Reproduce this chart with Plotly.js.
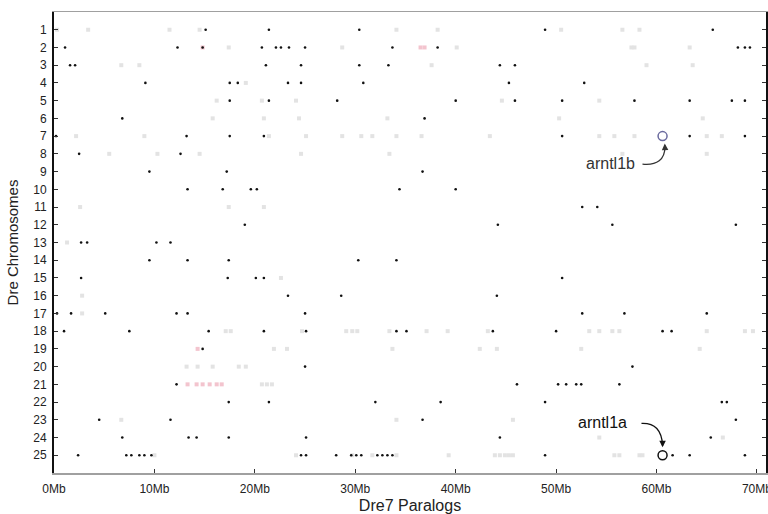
<!DOCTYPE html>
<html>
<head>
<meta charset="utf-8">
<script src="https://cdn.plot.ly/plotly-3.0.1.min.js"></script>
<style>html,body{margin:0;padding:0;background:#fff;}#chart{width:768px;height:514px;}</style>
</head>
<body>
<div id="chart"></div>
<script>
// Black (strong) paralog hits: x in Mb, y = chromosome
var blackX = [
 15.1, 21.4, 30.4, 48.9, 65.6,
 1.1, 12.3, 14.8, 20.7, 22.1, 22.6, 23.4, 25.0, 33.7, 38.2, 68.1, 68.8, 69.3,
 1.6, 2.1, 21.1, 24.6, 30.4, 33.3, 44.4, 45.9,
 9.1, 17.5, 18.3, 23.3, 24.6, 30.8, 45.3, 52.8,
 17.5, 21.4, 28.2, 40.0, 45.9, 50.6, 57.8, 63.3, 67.5, 68.8,
 6.8, 36.9,
 0.2, 13.2, 17.5, 20.9, 50.6, 63.3, 68.8,
 2.5, 12.6,
 9.5, 17.2, 36.7,
 13.3, 16.8, 19.6, 20.2, 34.4, 40.0,
 52.6, 54.1,
 19.0, 44.2, 55.6, 67.9,
 2.7, 3.3, 10.2, 11.6,
 9.5, 13.3, 17.4, 30.3, 34.1,
 2.7, 17.3, 20.1, 20.9, 50.6,
 23.3, 28.6, 44.1,
 0.3, 1.7, 5.1, 12.2, 13.3, 25.0, 52.6, 56.8, 65.0,
 1.0, 7.5, 15.4, 20.9, 25.1, 34.1, 35.1, 43.7, 50.0, 60.6, 61.5,
 14.8,
 25.0, 57.6,
 12.2, 46.1, 50.2, 51.0, 52.0, 52.5, 56.3,
 17.4, 21.4, 32.0, 38.5, 48.9, 66.5, 67.0,
 4.5, 11.6, 36.7, 67.9,
 6.8, 13.4, 14.2, 17.4, 25.1, 44.4, 65.4,
 2.4, 7.2, 7.7, 8.5, 9.0, 9.7, 24.6, 25.1, 28.1, 29.6, 30.1, 30.6, 32.2, 32.7, 33.2, 33.7, 48.9, 61.6, 63.3, 68.8
];
var blackY = [
 1,1,1,1,1,
 2,2,2,2,2,2,2,2,2,2,2,2,2,
 3,3,3,3,3,3,3,3,
 4,4,4,4,4,4,4,4,
 5,5,5,5,5,5,5,5,5,5,
 6,6,
 7,7,7,7,7,7,7,
 8,8,
 9,9,9,
 10,10,10,10,10,10,
 11,11,
 12,12,12,12,
 13,13,13,13,
 14,14,14,14,14,
 15,15,15,15,15,
 16,16,16,
 17,17,17,17,17,17,17,17,17,
 18,18,18,18,18,18,18,18,18,18,18,
 19,
 20,20,
 21,21,21,21,21,21,21,
 22,22,22,22,22,22,22,
 23,23,23,23,
 24,24,24,24,24,24,24,
 25,25,25,25,25,25,25,25,25,25,25,25,25,25,25,25,25,25,25,25
];
// Faint (weak) hits
var faintX = [
 0.3, 3.4, 11.5, 14.5, 34.1, 38.2, 50.5, 56.6, 58.3,
 17.4, 28.7, 40.1, 57.5, 57.8, 63.3,
 6.7, 8.5, 37.6, 59.0, 63.6,
 19.1,
 16.2, 20.7, 24.1, 44.6, 54.3,
 15.8, 20.9, 24.4, 33.2, 50.3, 64.6,
 2.2, 9.0, 21.4, 25.1, 28.7, 30.6, 31.7, 34.1, 36.6, 43.4, 54.3, 55.8, 57.8, 65.0, 66.5,
 5.5, 10.3, 14.5, 24.6, 33.4, 56.6, 65.0,
 2.6, 17.4, 20.9,
 1.3,
 22.6,
 2.8,
 2.8,
 17.1, 17.6, 24.7, 29.1, 29.7, 30.2, 33.4, 37.1, 39.2, 43.2, 53.3, 54.3, 55.6, 56.3, 65.0, 68.8, 69.6,
 21.9, 23.2, 33.7, 42.4, 44.1, 52.5, 64.3,
 13.2, 14.3, 15.8, 18.4, 19.1,
 20.7, 21.2, 21.7,
 6.7, 34.1, 45.7,
 54.3, 66.6,
 10.0, 24.1, 29.7, 31.7, 34.1, 39.3, 43.9, 44.4, 44.9, 45.3, 45.7, 55.8, 56.3, 58.3, 58.6
];
var faintY = [
 1,1,1,1,1,1,1,1,1,
 2,2,2,2,2,2,
 3,3,3,3,3,
 4,
 5,5,5,5,5,
 6,6,6,6,6,6,
 7,7,7,7,7,7,7,7,7,7,7,7,7,7,7,
 8,8,8,8,8,8,8,
 11,11,11,
 13,
 15,
 16,
 17,
 18,18,18,18,18,18,18,18,18,18,18,18,18,18,18,18,18,
 19,19,19,19,19,19,19,
 20,20,20,20,20,
 21,21,21,
 23,23,23,
 24,24,
 25,25,25,25,25,25,25,25,25,25,25,25,25,25,25
];
// Pinkish hits
var pinkX = [14.8, 36.5, 36.9, 14.3, 13.3, 14.2, 14.8, 15.5, 16.2, 16.7];
var pinkY = [2, 2, 2, 19, 21, 21, 21, 21, 21, 21];
// Highlighted genes
var geneNames = ["arntl1b", "arntl1a"];
var geneX = [60.6, 60.6];
var geneY = [7, 25];
var geneColors = ["#6a6a9e", "#111111"];

var xTickVals = [0, 10, 20, 30, 40, 50, 60, 70];
var xTickText = ["0Mb", "10Mb", "20Mb", "30Mb", "40Mb", "50Mb", "60Mb", "70Mb"];
var yTickVals = [];
for (var i = 1; i <= 25; i++) yTickVals.push(i);

var traces = [
 {x: faintX, y: faintY, type: "scatter", mode: "markers", hoverinfo: "skip",
  marker: {color: "#e3e3e3", size: 4, symbol: "square"}},
 {x: pinkX, y: pinkY, type: "scatter", mode: "markers", hoverinfo: "skip",
  marker: {color: "#f3c4ce", size: 4, symbol: "square"}},
 {x: blackX, y: blackY, type: "scatter", mode: "markers", hoverinfo: "skip",
  marker: {color: "#111111", size: 2.6}},
 {x: geneX, y: geneY, type: "scatter", mode: "markers", hoverinfo: "skip",
  marker: {symbol: "circle-open", size: 9, color: geneColors, line: {width: 1.5, color: geneColors}}}
];

var font = "Liberation Sans, Arial, sans-serif";
var layout = {
 width: 768, height: 514,
 margin: {l: 54, r: 2, t: 12, b: 41},
 paper_bgcolor: "#ffffff", plot_bgcolor: "#ffffff",
 showlegend: false,
 font: {family: font, size: 12, color: "#222"},
 xaxis: {
  range: [0, 70.9], tickvals: xTickVals, ticktext: xTickText,
  showgrid: false, zeroline: false, showline: true, mirror: true,
  linecolor: "#a0a0a0", linewidth: 1.5, ticks: "inside", ticklen: 4, tickcolor: "#333",
  ticklabeloverflow: "allow", ticklabelstandoff: 4,
  tickfont: {family: font, size: 12, color: "#222"},
  title: {text: "Dre7 Paralogs", font: {family: font, size: 16, color: "#222"}, standoff: 5}
 },
 yaxis: {
  range: [26, 0], tickvals: yTickVals,
  showgrid: false, zeroline: false, showline: true, mirror: "ticks",
  linecolor: "#111", linewidth: 2, ticks: "inside", ticklen: 4, tickcolor: "#333",
  ticklabelstandoff: 3,
  tickfont: {family: font, size: 12, color: "#222"},
  title: {text: "Dre Chromosomes", font: {family: font, size: 15, color: "#222"}, standoff: 11}
 },
 shapes: [
  {type: "path", path: "M 58.6 8.58 Q 60.8 8.7 60.85 7.6", line: {color: "#333", width: 1.3}},
  {type: "path", path: "M 58.5 23.2 Q 60.5 23.15 60.6 24.45", line: {color: "#111", width: 1.3}}
 ],
 annotations: [
  {x: 55.4, y: 8.55, xref: "x", yref: "y", text: geneNames[0], showarrow: false,
   font: {family: font, size: 16, color: "#333"}},
  {x: 54.6, y: 23.15, xref: "x", yref: "y", text: geneNames[1], showarrow: false,
   font: {family: font, size: 16, color: "#111"}},
  {x: 60.82, y: 7.42, xref: "x", yref: "y", ax: 0.3, ay: 6, text: "", showarrow: true,
   arrowhead: 2, arrowsize: 1, arrowwidth: 1.3, arrowcolor: "#333"},
  {x: 60.6, y: 24.55, xref: "x", yref: "y", ax: 0, ay: -6, text: "", showarrow: true,
   arrowhead: 2, arrowsize: 1, arrowwidth: 1.3, arrowcolor: "#111"}
 ]
};
Plotly.newPlot("chart", traces, layout, {displayModeBar: false, staticPlot: true});
</script>
</body>
</html>
